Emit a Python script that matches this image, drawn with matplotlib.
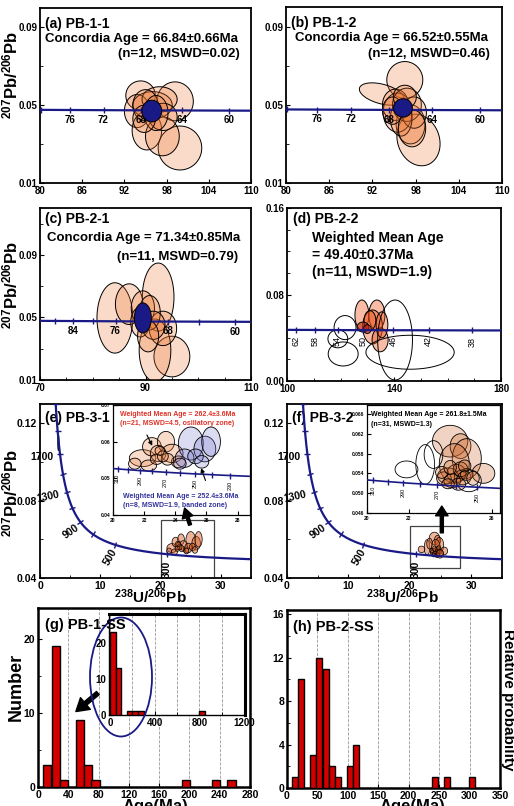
import numpy as np
import matplotlib
matplotlib.use('Agg')
import matplotlib.pyplot as plt
from matplotlib.patches import Polygon, Rectangle, Ellipse
from matplotlib.markers import MarkerStyle
from matplotlib.transforms import Affine2D

plt.rcParams['font.family'] = ['Liberation Sans', 'DejaVu Sans']
plt.rcParams['font.weight'] = 'bold'
plt.rcParams['mathtext.fontset'] = 'custom'
plt.rcParams['mathtext.rm'] = 'Liberation Sans:bold'
plt.rcParams['mathtext.bf'] = 'Liberation Sans:bold'
plt.rcParams['mathtext.it'] = 'Liberation Sans:bold'

# ---- spot data: (238U/206Pb, 207Pb/206Pb, err x, err y[, tilt]) ----
pb11_spots = [(99.9, 0.028, 3.1, 0.0113), (99.2, 0.052, 2.6, 0.0100), (94.3, 0.055, 2.1, 0.0075),
              (93.8, 0.047, 1.8, 0.0085), (95.2, 0.037, 2.1, 0.0100), (97.4, 0.034, 2.4, 0.0100),
              (96.0, 0.050, 2.8, 0.0070), (97.0, 0.053, 2.5, 0.0065), (95.0, 0.050, 1.8, 0.0080),
              (97.5, 0.044, 2.0, 0.0070), (96.5, 0.046, 1.7, 0.0090), (94.8, 0.043, 1.6, 0.0070)]
pb11_conc = (95.9, 0.047, 1.4, 0.0056)

pb12_spots = [(96.5, 0.0627, 2.5, 0.0094, 0), (93.3, 0.0555, 3.2, 0.0050, -15), (98.4, 0.0320, 2.9, 0.0135, 20),
              (97.3, 0.0400, 2.0, 0.0100, 0), (95.5, 0.0460, 2.0, 0.0100, 0), (95.2, 0.0500, 1.8, 0.0080, 0),
              (96.8, 0.0500, 2.0, 0.0085, 0), (97.8, 0.0460, 1.7, 0.0080, 0), (96.0, 0.0430, 1.5, 0.0090, 0),
              (94.8, 0.0470, 1.4, 0.0070, 0), (96.5, 0.0540, 1.6, 0.0060, 0), (97.5, 0.0380, 1.9, 0.0095, 0)]
pb12_conc = (96.25, 0.0484, 1.3, 0.0047)

pb21_spots = [(84.2, 0.0497, 3.4, 0.0225), (92.4, 0.0630, 3.0, 0.0218), (86.9, 0.0585, 2.6, 0.0130),
              (95.0, 0.0250, 3.4, 0.0130), (91.8, 0.0290, 3.0, 0.0200), (93.3, 0.0430, 2.6, 0.0110),
              (89.5, 0.0560, 2.2, 0.0110), (90.8, 0.0530, 2.0, 0.0110), (89.0, 0.0470, 1.8, 0.0095),
              (91.5, 0.0450, 2.2, 0.0090), (90.5, 0.0380, 2.0, 0.0100)]
pb21_conc = (89.5, 0.0497, 1.6, 0.0096)

pb22_used = [(128.0, 0.0610, 2.6, 0.0139), (133.6, 0.0610, 3.0, 0.0139), (132.0, 0.0500, 3.7, 0.0157),
             (134.8, 0.0380, 3.0, 0.0110), (131.0, 0.0560, 2.2, 0.0090), (135.5, 0.0520, 2.2, 0.0120),
             (128.4, 0.0499, 2.2, 0.0046), (130.0, 0.0480, 1.5, 0.0040)]
pb22_rejected = [(121.7, 0.0494, 4.1, 0.0111), (119.0, 0.0390, 3.7, 0.0083), (121.0, 0.0250, 5.6, 0.0111),
                 (140.4, 0.0379, 6.5, 0.0370), (146.0, 0.0266, 16.5, 0.0157)]

pb31_osc = [(21.9, 0.0555, 0.85, 0.0023), (22.5, 0.0586, 0.60, 0.0025), (23.4, 0.0600, 0.55, 0.0028),
            (22.3, 0.0535, 0.50, 0.0015), (23.8, 0.0568, 0.70, 0.0025), (22.9, 0.0568, 0.50, 0.0022),
            (21.4, 0.0540, 0.40, 0.0015), (24.2, 0.0545, 0.45, 0.0016), (22.8, 0.0552, 0.40, 0.0014),
            (23.5, 0.0552, 0.40, 0.0016), (23.2, 0.0560, 0.35, 0.0015), (23.0, 0.0575, 0.30, 0.0012)]
pb31_band = [(25.0, 0.0595, 0.80, 0.0045), (25.9, 0.0580, 0.70, 0.0035), (26.3, 0.0600, 0.60, 0.0040),
             (24.6, 0.0555, 0.60, 0.0025), (25.3, 0.0560, 0.50, 0.0020), (24.3, 0.0540, 0.40, 0.0015),
             (25.7, 0.0545, 0.45, 0.0017)]
pb31_old = (3.05, 0.110, 0.10, 0.004)

pb32_spots = [(24.0, 0.0605, 0.85, 0.0032), (24.5, 0.0595, 0.50, 0.0025), (24.8, 0.0570, 0.70, 0.0040),
              (24.2, 0.0560, 0.72, 0.0040), (25.6, 0.0540, 0.55, 0.0020), (23.9, 0.0535, 0.50, 0.0016),
              (24.3, 0.0540, 0.45, 0.0018), (24.6, 0.0532, 0.40, 0.0015), (23.7, 0.0530, 0.35, 0.0013),
              (24.1, 0.0525, 0.40, 0.0014), (24.5, 0.0548, 0.35, 0.0015), (24.8, 0.0538, 0.30, 0.0012),
              (23.6, 0.0542, 0.30, 0.0012), (24.0, 0.0552, 0.30, 0.0014), (24.4, 0.0518, 0.35, 0.0012),
              (25.1, 0.0530, 0.30, 0.0014), (23.9, 0.0519, 0.30, 0.0010), (24.7, 0.0555, 0.30, 0.0012)]
pb32_open = [(21.9, 0.0548, 0.55, 0.0017), (22.8, 0.0558, 0.45, 0.0040), (23.2, 0.0578, 0.45, 0.0028),
             (24.9, 0.0525, 0.60, 0.0022)]

# ---- histogram data ----
g_centers = [12.3, 23.3, 34.4, 55.2, 65.5, 76.0, 195.5, 235.5, 255.5]
g_counts = [3, 19, 1, 9, 3, 1, 1, 1, 1]
g_all_centers = [25, 75, 175, 225, 275, 825]
g_all_counts = [23, 13, 1, 1, 1, 1]
h_centers = [12.5, 23.5, 42, 53, 64.5, 74.5, 84, 103, 113.5, 243.5, 263, 303.5]
h_counts = [1, 10, 3, 12, 11, 2, 1, 2, 4, 1, 1, 1]

L238, L235, U85 = 1.55125e-10, 9.8485e-10, 137.88
NAVY = '#1a1a86'
PEACH = (0.93, 0.45, 0.18, 0.26)
W, H = 514, 806

fig = plt.figure(figsize=(W / 100, H / 100), dpi=100)


def box(l, r, t, b):
    return [l / W, 1 - b / H, (r - l) / W, (b - t) / H]


def tw(t_ma):
    t = np.asarray(t_ma, float) * 1e6
    e8 = np.expm1(L238 * t)
    return 1 / e8, np.expm1(L235 * t) / e8 / U85


def scale(ax):
    bb = ax.get_position()
    x0, x1 = ax.get_xlim()
    y0, y1 = ax.get_ylim()
    return bb.width * W / (x1 - x0), bb.height * H / (y1 - y0)


def spot(ax, x, y, a, b, fc, ang=0, ec='black', lw=0.7, z=3):
    sx, sy = scale(ax)
    t = np.linspace(0, 2 * np.pi, 100)
    u, v = a * sx * np.cos(t), b * sy * np.sin(t)
    r = np.deg2rad(ang)
    px = u * np.cos(r) - v * np.sin(r)
    py = u * np.sin(r) + v * np.cos(r)
    ax.add_patch(Polygon(np.column_stack([x + px / sx, y + py / sy]), closed=True,
                         fc=fc, ec=ec, lw=lw, zorder=z))


def concordia(ax, t_lo, t_hi, ticks, labels, offs, fs=7, fw='bold', lw=1.6, ms=5):
    x, y = tw(np.linspace(t_lo, t_hi, 800))
    ax.plot(x, y, color=NAVY, lw=lw, zorder=4)
    sx, sy = scale(ax)
    for age in ticks:
        xa, ya = tw(age)
        xb, yb = tw(age * 1.01)
        ang = np.degrees(np.arctan2((yb - ya) * sy, (xb - xa) * sx))
        m = MarkerStyle('|', transform=Affine2D().rotate_deg(ang))
        ax.plot(xa, ya, marker=m, ms=ms, mew=1.0, color=NAVY, zorder=4)
    for age, (dx, dy, rot, ha) in zip(labels, offs):
        xa, ya = tw(age)
        ax.annotate(str(age), (xa, ya), xytext=(dx, dy), textcoords='offset points',
                    fontsize=fs, fontweight=fw, rotation=rot, ha=ha, va='center', zorder=5)


def style(ax, lw=1.3, fs=7):
    for s in ax.spines.values():
        s.set_linewidth(lw)
    ax.tick_params(direction='in', labelsize=fs, width=0.8, length=3, pad=2)
    ax.tick_params(which='minor', direction='in', width=0.6, length=2)


ylab = r'$^{207}$Pb/$^{206}$Pb'

# ---- (a) (b) ----
for rect, spots, conc, txt in [(box(40, 251, 8, 183), pb11_spots, pb11_conc,
                                ['(a) PB-1-1', 'Concordia Age = 66.84±0.66Ma', '(n=12, MSWD=0.02)']),
                               (box(286, 502, 7, 183), pb12_spots, pb12_conc,
                                ['(b) PB-1-2', 'Concordia Age = 66.52±0.55Ma', '(n=12, MSWD=0.46)'])]:
    ax = fig.add_axes(rect)
    ax.set_xlim(80, 110)
    ax.set_ylim(0.01, 0.10)
    ax.set_xticks([80, 86, 92, 98, 104, 110])
    ax.set_yticks([0.01, 0.05, 0.09])
    ax.set_yticklabels(['0.01', '0.05', '0.09'])
    ax.set_yticks([0.03, 0.07], minor=True)
    style(ax)
    for sp in spots:
        spot(ax, sp[0], sp[1], sp[2], sp[3], PEACH, ang=sp[4] if len(sp) > 4 else 0)
    spot(ax, *conc, NAVY, z=6)
    concordia(ax, 55, 82, [80, 76, 72, 68, 64, 60], [76, 72, 68, 64, 60],
              [(0, -7, 0, 'center')] * 5)
    ax.text(0.025, 0.91, txt[0], transform=ax.transAxes, fontsize=10, va='center')
    ax.text(0.025 if txt[0][1] == 'a' else 0.04, 0.825, txt[1], transform=ax.transAxes, fontsize=9.5, va='center')
    ax.text(0.945, 0.735, txt[2], transform=ax.transAxes, fontsize=9.5, va='center', ha='right')

# ---- (c) ----
ax = fig.add_axes(box(40, 251, 208, 380))
ax.set_xlim(70, 110)
ax.set_ylim(0.01, 0.12)
ax.set_xticks([70, 90, 110])
ax.set_xticks(np.arange(75, 110, 5), minor=True)
ax.set_yticks([0.01, 0.05, 0.09])
ax.set_yticklabels(['0.01', '0.05', '0.09'])
ax.set_yticks([0.03, 0.07, 0.11], minor=True)
style(ax)
for sp in pb21_spots:
    spot(ax, *sp, PEACH)
spot(ax, *pb21_conc, NAVY, z=6)
concordia(ax, 55, 92, [88, 84, 80, 76, 72, 68, 64, 60], [84, 76, 68, 60], [(0, -7, 0, 'center')] * 4)
ax.text(0.025, 0.935, '(c) PB-2-1', transform=ax.transAxes, fontsize=10, va='center')
ax.text(0.035, 0.825, 'Concordia Age = 71.34±0.85Ma', transform=ax.transAxes, fontsize=9.5, va='center')
ax.text(0.94, 0.715, '(n=11, MSWD=0.79)', transform=ax.transAxes, fontsize=9.5, va='center', ha='right')

# ---- (d) ----
ax = fig.add_axes(box(287, 501, 208, 381))
ax.set_xlim(100, 180)
ax.set_ylim(0.0, 0.16)
ax.set_xticks([100, 140, 180])
ax.set_xticks(np.arange(110, 180, 10), minor=True)
ax.set_yticks([0.0, 0.08, 0.16])
ax.set_yticklabels(['0.00', '0.08', '0.16'])
ax.set_yticks(np.arange(0.02, 0.16, 0.02), minor=True)
style(ax)
for sp in pb22_used[:6]:
    spot(ax, *sp, (0.93, 0.30, 0.08, 0.38))
for sp in pb22_used[6:]:
    spot(ax, *sp, (0.75, 0.15, 0.05, 0.6))
for sp in pb22_rejected:
    spot(ax, *sp, 'none')
concordia(ax, 34, 66, [62, 58, 54, 50, 46, 42, 38], [62, 58, 54, 50, 46, 42, 38],
          [(0, -8, 90, 'center')] * 7, fs=6.5, fw='normal')
ax.text(0.03, 0.935, '(d) PB-2-2', transform=ax.transAxes, fontsize=10, va='center')
ax.text(0.115, 0.827, 'Weighted Mean Age', transform=ax.transAxes, fontsize=10, va='center')
ax.text(0.115, 0.728, '= 49.40±0.37Ma', transform=ax.transAxes, fontsize=10, va='center')
ax.text(0.115, 0.63, '(n=11, MSWD=1.9)', transform=ax.transAxes, fontsize=10, va='center')

# ---- (e) (f) main ----
main_offs = [(0, -11, 90, 'center'), (-3, -9, 60, 'center'), (-7, -7, 35, 'center'),
             (-14, -3, 12, 'center'), (-13, -2, 0, 'center')]
axes_ef = []
for rect, tag in [(box(40, 251, 404, 578), '(e) PB-3-1'), (box(287, 502, 404, 578), '(f) PB-3-2')]:
    ax = fig.add_axes(rect)
    ax.set_xlim(0, 35)
    ax.set_ylim(0.04, 0.13)
    ax.set_xticks([0, 10, 20, 30])
    ax.set_xticks([5, 15, 25, 35], minor=True)
    ax.set_yticks([0.04, 0.08, 0.12])
    ax.set_yticklabels(['0.04', '0.08', '0.12'])
    ax.set_yticks([0.06, 0.10], minor=True)
    style(ax, fs=7.5)
    concordia(ax, 120, 2300, list(range(300, 2200, 200)), [300, 500, 900, 1300, 1700], main_offs, fs=7.5)
    ax.text(0.025, 0.92, tag, transform=ax.transAxes, fontsize=10, va='center', zorder=1)
    axes_ef.append(ax)

ax_e, ax_f = axes_ef
for sp in pb31_osc + pb31_band:
    spot(ax_e, *sp, (0.85, 0.35, 0.12, 0.45), lw=0.5)
spot(ax_e, *pb31_old, 'black')
ax_e.add_patch(Rectangle((20, 0.04), 8.8, 0.03, fill=False, ec='#444444', lw=0.9, zorder=2))
for sp in pb32_spots + pb32_open:
    spot(ax_f, *sp, (0.85, 0.35, 0.12, 0.45), lw=0.5)
ax_f.add_patch(Rectangle((20, 0.045), 8.2, 0.022, fill=False, ec='#444444', lw=0.9, zorder=2))

# ---- insets (e) (f) ----
ins_e = fig.add_axes(box(113, 250, 405, 515), zorder=5)
ins_e.set_xlim(20, 28.8)
ins_e.set_ylim(0.04, 0.07)
ins_e.set_xticks([20, 22, 24, 26, 28])
ins_e.set_yticks([0.04, 0.05, 0.06, 0.07])
style(ins_e, lw=0.9, fs=3.5)
for sp in pb31_osc:
    spot(ins_e, *sp, (0.93, 0.50, 0.25, 0.28), lw=0.6)
for sp in pb31_band:
    spot(ins_e, *sp, (0.45, 0.45, 0.80, 0.25), lw=0.6)
concordia(ins_e, 200, 330, list(range(230, 320, 10)), [310, 290, 270, 250, 230],
          [(0, -7, 90, 'center')] * 5, fs=4, fw='normal', lw=1.2, ms=4)
ins_e.text(0.05, 0.91, 'Weighted Mean Age = 262.4±3.6Ma', transform=ins_e.transAxes, fontsize=5,
           color='#e03228', va='center')
ins_e.text(0.05, 0.83, '(n=21, MSWD=4.5, osillatory zone)', transform=ins_e.transAxes, fontsize=5,
           color='#e03228', va='center')
ins_e.text(0.07, 0.165, 'Weighted Mean Age = 252.4±3.6Ma', transform=ins_e.transAxes, fontsize=5,
           color='#34349c', va='center')
ins_e.text(0.07, 0.085, '(n=8, MSWD=1.9, banded zone)', transform=ins_e.transAxes, fontsize=5,
           color='#34349c', va='center')
ins_e.annotate('', xy=(22.6, 0.0582), xytext=(22.1, 0.0625),
               arrowprops=dict(arrowstyle='-|>', color='black', lw=0.8, mutation_scale=6), zorder=7)
ins_e.annotate('', xy=(25.6, 0.0535), xytext=(26.0, 0.0487),
               arrowprops=dict(arrowstyle='-|>', color='black', lw=0.8, mutation_scale=6), zorder=7)
ins_e.annotate('', xy=(24.6, 0.0419), xytext=(24.95, 0.0373), annotation_clip=False,
               arrowprops=dict(width=2.2, headwidth=8, headlength=7, color='black', clip_on=False))

ins_f = fig.add_axes(box(367, 500, 405, 513), zorder=5)
ins_f.set_xlim(20, 26.4)
ins_f.set_ylim(0.046, 0.0678)
ins_f.set_xticks([20, 22, 26])
ins_f.set_yticks([0.046, 0.050, 0.054, 0.058, 0.062, 0.066])
ins_f.set_yticklabels(['0.046', '0.050', '0.054', '0.058', '0.062', '0.066'])
style(ins_f, lw=0.9, fs=3.5)
for sp in pb32_spots:
    spot(ins_f, *sp, (0.80, 0.38, 0.15, 0.28), lw=0.6)
for sp in pb32_open:
    spot(ins_f, *sp, 'none', lw=0.6)
concordia(ins_f, 240, 330, list(range(250, 320, 10)), [310, 290, 270, 250],
          [(0, -7, 90, 'center')] * 4, fs=4, fw='normal', lw=1.2, ms=4)
ins_f.text(0.03, 0.91, 'Weighted Mean Age = 261.8±1.5Ma', transform=ins_f.transAxes, fontsize=5, va='center')
ins_f.text(0.03, 0.82, '(n=31, MSWD=1.3)', transform=ins_f.transAxes, fontsize=5, va='center')
ins_f.annotate('', xy=(23.6, 0.0474), xytext=(23.6, 0.0420), annotation_clip=False,
               arrowprops=dict(width=2.2, headwidth=9, headlength=7, color='black', clip_on=False))

# ---- (g) ----
ax = fig.add_axes(box(38, 250, 608, 787))
ax.bar(g_centers, g_counts, width=10.8, color='#d40000', edgecolor='black', lw=1.0, zorder=3)
ax.set_xlim(0, 280)
ax.set_ylim(0, 24.2)
ax.set_xticks(range(0, 281, 40))
ax.set_yticks([0, 10, 20])
ax.set_yticks([5, 15], minor=True)
ax.grid(axis='x', ls='--', color='#999999', lw=0.6)
style(ax, lw=1.8, fs=7.5)
ax.annotate('', xy=(50, 10.2), xytext=(79, 12.7),
            arrowprops=dict(width=3, headwidth=11, headlength=9, color='black'))

ins_g = fig.add_axes(box(109, 245, 614, 715), zorder=5)
ins_g.bar(g_all_centers, g_all_counts, width=50, color='#d40000', edgecolor='black', lw=1.0, zorder=3)
ins_g.set_xlim(-9, 1209)
ins_g.set_ylim(0, 28)
ins_g.set_xticks([0, 400, 800, 1200])
ins_g.set_yticks([0, 10, 20])
ins_g.grid(axis='x', ls='--', color='#999999', lw=0.6)
ins_g.set_xticks([200, 600, 1000], minor=True)
ins_g.grid(axis='x', which='minor', ls='--', color='#999999', lw=0.6)
style(ins_g, lw=1.0, fs=7)
ins_g.spines['top'].set_linewidth(2.2)
ins_g.spines['right'].set_linewidth(2.2)
fig.add_artist(Ellipse((121 / W, 1 - 677 / H), 62 / W, 119 / H, transform=fig.transFigure,
                       fill=False, ec=NAVY, lw=1.3, zorder=20))
fig.text(45 / W, 1 - 625 / H, '(g) PB-1-SS', fontsize=10.5, va='center', zorder=30)

# ---- (h) ----
ax = fig.add_axes(box(287, 500, 610, 788))
ax.bar(h_centers, h_counts, width=10, color='#d40000', edgecolor='black', lw=1.0, zorder=3)
ax.set_xlim(0, 350)
ax.set_ylim(0, 16.4)
ax.set_xticks(range(0, 351, 50))
ax.set_yticks([0, 4, 8, 12, 16])
ax.set_yticks([2, 6, 10, 14], minor=True)
ax.grid(axis='x', ls='--', color='#999999', lw=0.6)
style(ax, lw=1.8, fs=7.5)
ax.text(0.03, 0.905, '(h) PB-2-SS', transform=ax.transAxes, fontsize=10.5, va='center')

# ---- shared labels ----
for yc in [75, 285, 493]:
    fig.text(10 / W, 1 - yc / H, ylab, rotation=90, fontsize=12, ha='center', va='center')
for xc in [150, 402]:
    fig.text(xc / W, 1 - 597 / H, r'$^{238}$U/$^{206}$Pb', fontsize=11, ha='center', va='center')
for xc in [155, 412]:
    fig.text(xc / W, 1 - 799 / H, 'Age(Ma)', fontsize=12, ha='center', va='top')
fig.text(16 / W, 1 - 687 / H, 'Number', rotation=90, fontsize=13, ha='center', va='center')
fig.text(508 / W, 1 - 700 / H, 'Relative probability', rotation=270, fontsize=11, ha='center', va='center')

fig.savefig('out.png', dpi=100)
